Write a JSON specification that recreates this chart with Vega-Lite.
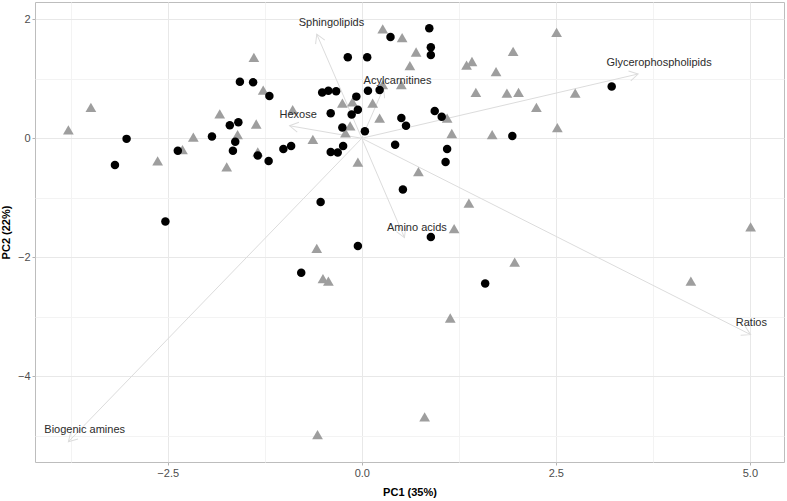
{
  "$schema": "https://vega.github.io/schema/vega-lite/v6.json",
  "width": 749,
  "height": 460,
  "autosize": {"type": "none"},
  "padding": {"left": 35, "top": 2, "right": 3, "bottom": 39},
  "background": "white",
  "config": {
    "view": {"stroke": "#bdbdbd", "strokeWidth": 1},
    "font": "Liberation Sans",
    "axis": {
      "domain": false,
      "labelFont": "Liberation Sans",
      "labelFontSize": 11,
      "labelColor": "#4d4d4d",
      "titleFont": "Liberation Sans",
      "titleFontSize": 11,
      "titleFontWeight": "bold",
      "titleColor": "#000000",
      "tickColor": "#b3b3b3",
      "tickSize": 3,
      "labelPadding": 2,
      "gridWidth": 1
    }
  },
  "datasets": {
    "samples": [
      {"x": -3.78, "y": 0.14, "group": "B"},
      {"x": -3.49, "y": 0.52, "group": "B"},
      {"x": -2.63, "y": -0.38, "group": "B"},
      {"x": -2.31, "y": -0.19, "group": "B"},
      {"x": -2.17, "y": 0.02, "group": "B"},
      {"x": -1.83, "y": 0.41, "group": "B"},
      {"x": -1.74, "y": -0.48, "group": "B"},
      {"x": -1.60, "y": 0.06, "group": "B"},
      {"x": -1.39, "y": 1.36, "group": "B"},
      {"x": -1.36, "y": 0.24, "group": "B"},
      {"x": -1.27, "y": 0.81, "group": "B"},
      {"x": -1.34, "y": -0.23, "group": "B"},
      {"x": -0.89, "y": 0.48, "group": "B"},
      {"x": -0.63, "y": -0.02, "group": "B"},
      {"x": -0.25, "y": 0.59, "group": "B"},
      {"x": -0.12, "y": 0.61, "group": "B"},
      {"x": 0.14, "y": 0.59, "group": "B"},
      {"x": 0.23, "y": 0.34, "group": "B"},
      {"x": -0.15, "y": 0.21, "group": "B"},
      {"x": -0.21, "y": 0.09, "group": "B"},
      {"x": -0.05, "y": -0.40, "group": "B"},
      {"x": 0.27, "y": 1.84, "group": "B"},
      {"x": 0.27, "y": 0.90, "group": "B"},
      {"x": 0.52, "y": 1.69, "group": "B"},
      {"x": 0.51, "y": 0.90, "group": "B"},
      {"x": 0.70, "y": 1.45, "group": "B"},
      {"x": 0.62, "y": 1.22, "group": "B"},
      {"x": 1.35, "y": 1.23, "group": "B"},
      {"x": 1.42, "y": 1.29, "group": "B"},
      {"x": 1.73, "y": 1.12, "group": "B"},
      {"x": 1.95, "y": 1.46, "group": "B"},
      {"x": 2.51, "y": 1.78, "group": "B"},
      {"x": 1.47, "y": 0.77, "group": "B"},
      {"x": 1.87, "y": 0.76, "group": "B"},
      {"x": 2.02, "y": 0.77, "group": "B"},
      {"x": 2.75, "y": 0.76, "group": "B"},
      {"x": 2.25, "y": 0.52, "group": "B"},
      {"x": 2.52, "y": 0.18, "group": "B"},
      {"x": 1.68, "y": 0.06, "group": "B"},
      {"x": 1.16, "y": 0.08, "group": "B"},
      {"x": 1.10, "y": 0.34, "group": "B"},
      {"x": 0.73, "y": -0.56, "group": "B"},
      {"x": 1.38, "y": -1.09, "group": "B"},
      {"x": 1.19, "y": -1.52, "group": "B"},
      {"x": 5.01, "y": -1.49, "group": "B"},
      {"x": 1.97, "y": -2.08, "group": "B"},
      {"x": 4.24, "y": -2.40, "group": "B"},
      {"x": 1.14, "y": -3.02, "group": "B"},
      {"x": 0.81, "y": -4.68, "group": "B"},
      {"x": -0.58, "y": -1.85, "group": "B"},
      {"x": -0.50, "y": -2.36, "group": "B"},
      {"x": -0.43, "y": -2.40, "group": "B"},
      {"x": -0.57, "y": -4.98, "group": "B"},
      {"x": -3.18, "y": -0.45, "group": "A"},
      {"x": -3.03, "y": -0.01, "group": "A"},
      {"x": -2.53, "y": -1.40, "group": "A"},
      {"x": -2.37, "y": -0.21, "group": "A"},
      {"x": -1.93, "y": 0.03, "group": "A"},
      {"x": -1.70, "y": 0.22, "group": "A"},
      {"x": -1.59, "y": 0.27, "group": "A"},
      {"x": -1.63, "y": -0.06, "group": "A"},
      {"x": -1.66, "y": -0.21, "group": "A"},
      {"x": -1.57, "y": 0.95, "group": "A"},
      {"x": -1.40, "y": 0.94, "group": "A"},
      {"x": -1.19, "y": 0.71, "group": "A"},
      {"x": -1.34, "y": -0.29, "group": "A"},
      {"x": -1.20, "y": -0.38, "group": "A"},
      {"x": -1.01, "y": -0.18, "group": "A"},
      {"x": -0.91, "y": -0.13, "group": "A"},
      {"x": -0.53, "y": -1.07, "group": "A"},
      {"x": -0.51, "y": 0.77, "group": "A"},
      {"x": -0.43, "y": 0.80, "group": "A"},
      {"x": -0.33, "y": 0.79, "group": "A"},
      {"x": -0.18, "y": 1.36, "group": "A"},
      {"x": 0.07, "y": 1.36, "group": "A"},
      {"x": 0.37, "y": 1.70, "group": "A"},
      {"x": -0.40, "y": 0.42, "group": "A"},
      {"x": -0.07, "y": 0.70, "group": "A"},
      {"x": 0.08, "y": 0.80, "group": "A"},
      {"x": 0.23, "y": 0.81, "group": "A"},
      {"x": -0.13, "y": 0.40, "group": "A"},
      {"x": -0.05, "y": 0.48, "group": "A"},
      {"x": -0.25, "y": 0.18, "group": "A"},
      {"x": 0.04, "y": 0.12, "group": "A"},
      {"x": -0.40, "y": -0.23, "group": "A"},
      {"x": -0.31, "y": -0.24, "group": "A"},
      {"x": -0.24, "y": -0.13, "group": "A"},
      {"x": 0.43, "y": -0.11, "group": "A"},
      {"x": 0.51, "y": 0.34, "group": "A"},
      {"x": 0.57, "y": 0.21, "group": "A"},
      {"x": 0.87, "y": 1.85, "group": "A"},
      {"x": 0.89, "y": 1.53, "group": "A"},
      {"x": 0.89, "y": 1.40, "group": "A"},
      {"x": 0.94, "y": 0.46, "group": "A"},
      {"x": 1.03, "y": 0.36, "group": "A"},
      {"x": 1.10, "y": -0.18, "group": "A"},
      {"x": 1.08, "y": -0.40, "group": "A"},
      {"x": 0.53, "y": -0.86, "group": "A"},
      {"x": 1.94, "y": 0.04, "group": "A"},
      {"x": 3.22, "y": 0.87, "group": "A"},
      {"x": 0.89, "y": -1.66, "group": "A"},
      {"x": 1.59, "y": -2.44, "group": "A"},
      {"x": -0.78, "y": -2.26, "group": "A"},
      {"x": -0.05, "y": -1.81, "group": "A"}
    ],
    "loadings": [
      {"name": "Sphingolipids", "x0": 0, "y0": 0, "x": -0.58, "y": 1.75, "lx": -0.39, "ly": 1.94},
      {"name": "Acylcarnitines", "x0": 0, "y0": 0, "x": 0.28, "y": 0.84, "lx": 0.46, "ly": 0.97},
      {"name": "Hexose", "x0": 0, "y0": 0, "x": -0.93, "y": 0.21, "lx": -0.82, "ly": 0.39},
      {"name": "Glycerophospholipids", "x0": 0, "y0": 0, "x": 3.56, "y": 1.08, "lx": 3.83, "ly": 1.26},
      {"name": "Amino acids", "x0": 0, "y0": 0, "x": 0.55, "y": -1.67, "lx": 0.71, "ly": -1.50},
      {"name": "Ratios", "x0": 0, "y0": 0, "x": 5.01, "y": -3.30, "lx": 5.02, "ly": -3.10},
      {"name": "Biogenic amines", "x0": 0, "y0": 0, "x": -3.78, "y": -5.10, "lx": -3.57, "ly": -4.91}
    ]
  },
  "layer": [
    {
      "data": {"name": "loadings"},
      "mark": {"type": "rule", "color": "#dcdcdc", "strokeWidth": 1},
      "encoding": {
        "x": {
          "field": "x0",
          "type": "quantitative",
          "scale": {"domain": [-4.21, 5.44], "nice": false, "zero": false},
          "axis": {
            "title": "PC1 (35%)",
            "titlePadding": 8,
            "values": [-3.75, -2.5, -1.25, 0, 1.25, 2.5, 3.75, 5],
            "format": ".1f",
            "labelExpr": "indexof([-3.75, -1.25, 1.25, 3.75], datum.value) >= 0 ? '' : datum.label",
            "gridColor": {"condition": {"test": "indexof([-3.75, -1.25, 1.25, 3.75], datum.value) >= 0", "value": "#f3f3f3"}, "value": "#e8e8e8"},
            "tickOpacity": {"condition": {"test": "indexof([-3.75, -1.25, 1.25, 3.75], datum.value) >= 0", "value": 0}, "value": 1}
          }
        },
        "y": {
          "field": "y0",
          "type": "quantitative",
          "scale": {"domain": [-5.44, 2.29], "nice": false, "zero": false},
          "axis": {
            "title": "PC2 (22%)",
            "titlePadding": 6,
            "values": [-5, -4, -3, -2, -1, 0, 1, 2],
            "format": "d",
            "labelExpr": "datum.value % 2 !== 0 ? '' : datum.label",
            "gridColor": {"condition": {"test": "datum.value % 2 !== 0", "value": "#f3f3f3"}, "value": "#e8e8e8"},
            "tickOpacity": {"condition": {"test": "datum.value % 2 !== 0", "value": 0}, "value": 1}
          }
        },
        "x2": {"field": "x"},
        "y2": {"field": "y"}
      }
    },
    {
      "data": {"name": "loadings"},
      "mark": {
        "type": "point",
        "shape": "M-0.5,0.866L0,0L0.5,0.866",
        "filled": false,
        "stroke": "#dcdcdc",
        "strokeWidth": 1,
        "opacity": 1,
        "size": 400,
        "angle": {"expr": "atan2(scale('x', datum.x) - scale('x', 0), scale('y', 0) - scale('y', datum.y)) * 180 / PI"}
      },
      "encoding": {
        "x": {"field": "x", "type": "quantitative"},
        "y": {"field": "y", "type": "quantitative"}
      }
    },
    {
      "data": {"name": "samples"},
      "transform": [{"filter": "datum.group === 'B'"}],
      "mark": {"type": "point", "shape": "triangle-up", "filled": true, "color": "#9e9e9e", "opacity": 1, "size": 115, "strokeWidth": 0},
      "encoding": {
        "x": {"field": "x", "type": "quantitative"},
        "y": {"field": "y", "type": "quantitative"}
      }
    },
    {
      "data": {"name": "samples"},
      "transform": [{"filter": "datum.group === 'A'"}],
      "mark": {"type": "point", "shape": "circle", "filled": true, "color": "#000000", "opacity": 1, "size": 72, "strokeWidth": 0},
      "encoding": {
        "x": {"field": "x", "type": "quantitative"},
        "y": {"field": "y", "type": "quantitative"}
      }
    },
    {
      "data": {"name": "loadings"},
      "mark": {"type": "text", "font": "Liberation Sans", "fontSize": 11, "color": "#2b2b2b", "align": "center", "baseline": "middle"},
      "encoding": {
        "x": {"field": "lx", "type": "quantitative"},
        "y": {"field": "ly", "type": "quantitative"},
        "text": {"field": "name"}
      }
    }
  ]
}
